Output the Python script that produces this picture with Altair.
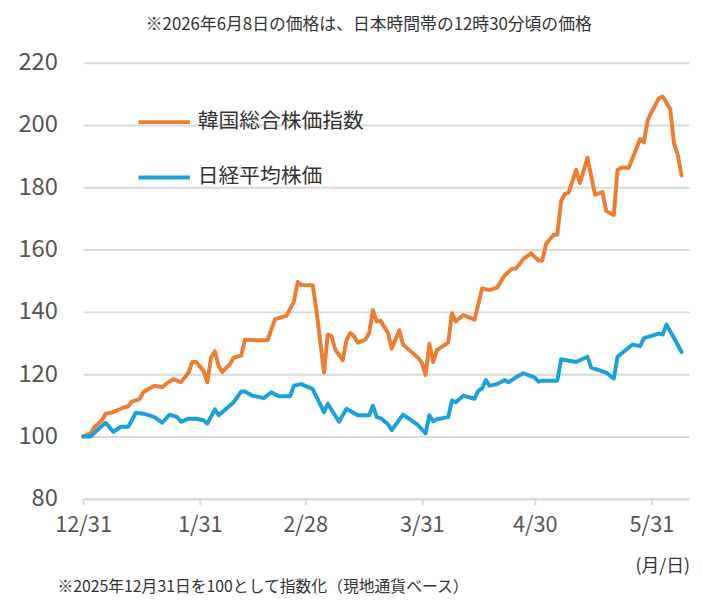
import altair as alt
import pandas as pd

FONT = "Noto Sans CJK JP"
BASE = pd.Timestamp("2025-12-31")

KR_NAME = "韓国総合株価指数"
JP_NAME = "日経平均株価"

# days since 2025-12-31
kr_day = [0, 2, 3, 5, 6, 8, 9, 10, 12, 13, 15, 16, 17, 19, 21, 22, 24, 26, 28, 29,
          30, 32, 33, 34, 35, 36, 37, 39, 40, 42, 43, 46, 49, 51, 54, 56, 57, 58, 61, 62,
          64, 65, 66, 67, 69, 70, 71, 72, 73, 75, 76, 77, 78, 79, 81, 82, 84, 85, 87, 89,
          90, 91, 92, 93, 94, 95, 97, 98, 99, 101, 104, 106, 108, 110, 112, 114, 115, 117, 119, 121,
          122, 123, 125, 126, 127, 128, 129, 130, 131, 132, 134, 136, 138, 139, 141, 142, 143, 145, 148, 149,
          150, 151, 153, 154, 156, 157, 158, 159]
kr_val = [100, 101, 103, 105.2, 107.3, 107.8, 108.4, 108.9, 109.7, 111.2, 112, 114.2, 115, 116.3, 115.8, 116.8, 118.4, 117.4, 120.5, 123.9,
          124, 121, 117.4, 125.3, 127.4, 122.6, 120.7, 123.2, 125.3, 126, 131.1, 130.9, 130.9, 137.7, 138.7, 143.3, 149.6, 148.6, 148.6, 140.6,
          120.5, 132.7, 132.2, 127.9, 124.5, 131.1, 133.2, 132.2, 130.1, 131.1, 133.2, 140.6, 136.9, 137.2, 133.2, 128.2, 134.1, 129.5, 127.4, 125.3,
          123.7, 119.7, 129.8, 123.9, 127.7, 128.5, 130.1, 139.6, 136.9, 139, 137.5, 147.5, 147, 147.8, 151.7, 153.9, 153.9, 157, 158.8, 156.5,
          156.5, 161.8, 164.8, 164.8, 175.6, 177.9, 178.3, 181.9, 185.6, 181.4, 189.5, 177.7, 178.5, 172.4, 171.1, 185.6, 186.3, 186.3, 195.5, 194.4,
          201.5, 204.1, 208.6, 209.2, 205.2, 194.1, 190.4, 183.8]

jp_day = [0, 2, 4, 6, 8, 10, 12, 14, 16, 19, 21, 23, 25, 26, 28, 30, 32, 33, 35, 36,
          38, 40, 42, 43, 45, 48, 50, 52, 55, 56, 58, 61, 64, 65, 68, 70, 73, 76, 77, 78,
          79, 81, 82, 85, 86, 89, 91, 92, 93, 94, 97, 98, 99, 101, 104, 105, 106, 107, 108, 110,
          112, 113, 115, 117, 119, 120, 121, 122, 126, 127, 131, 134, 135, 139, 141, 142, 146, 148, 149, 153,
          154, 155, 157, 159]
jp_val = [100, 100, 102.3, 104.4, 101.5, 103.1, 103.1, 107.6, 107.3, 106.2, 104.4, 107, 106.2, 104.7, 105.7, 105.7, 105.2, 104.1, 108.7, 106.8,
          108.9, 111, 114.4, 114.4, 113.1, 112.3, 114.2, 112.9, 112.9, 116.3, 116.8, 115.2, 107.8, 110.5, 104.7, 108.9, 106.8, 106.8, 109.9, 106.2,
          105.9, 103.9, 102, 107, 106.2, 103.6, 101, 106.8, 104.9, 105.5, 106.2, 111.5, 111, 113.1, 112.1, 114.7, 115.4, 118.1, 116.3, 116.8,
          118.1, 117.4, 119, 120.3, 119.4, 118.9, 117.6, 117.9, 117.9, 124.8, 123.9, 125.6, 122.1, 120.5, 118.6, 125.6, 129.5, 129, 131.6, 133,
          132.7, 135.9, 131.6, 127.1]

x_ticks = ["2025-12-31", "2026-01-31", "2026-02-28", "2026-03-31", "2026-04-30", "2026-05-31"]
y_ticks = [80, 100, 120, 140, 160, 180, 200, 220]

rows = []
for d, v in zip(kr_day, kr_val):
    rows.append({"date": BASE + pd.Timedelta(days=d), "value": v, "series": KR_NAME})
for d, v in zip(jp_day, jp_val):
    rows.append({"date": BASE + pd.Timedelta(days=d), "value": v, "series": JP_NAME})
df = pd.DataFrame(rows)


def dt(s):
    t = pd.Timestamp(s)
    return alt.DateTime(year=t.year, month=t.month, date=t.day)


GRID = "#d9d9d9"
TXT = "#555555"

lines = alt.Chart(df).mark_line(strokeWidth=4, strokeJoin="round", strokeCap="round").encode(
    x=alt.X(
        "date:T",
        scale=alt.Scale(domain=[dt("2025-12-31"), dt("2026-06-10")], nice=False),
        axis=alt.Axis(
            values=[dt(s) for s in x_ticks],
            format="%-m/%-d",
            title=None,
            grid=False,
            domainColor=GRID,
            domainWidth=2,
            tickColor=GRID,
            tickWidth=2,
            tickSize=6,
            labelFont=FONT,
            labelFontSize=22,
            labelColor=TXT,
            labelPadding=10,
            labelOverlap=False,
            labelBound=False,
            labelFlush=False,
        ),
    ),
    y=alt.Y(
        "value:Q",
        scale=alt.Scale(domain=[80, 220], nice=False, zero=False),
        axis=alt.Axis(
            values=y_ticks,
            title=None,
            domain=False,
            ticks=False,
            gridColor=GRID,
            gridWidth=2,
            labelFont=FONT,
            labelFontSize=24,
            labelColor=TXT,
            labelPadding=26,
        ),
    ),
    color=alt.Color(
        "series:N",
        scale=alt.Scale(domain=[KR_NAME, JP_NAME], range=["#ED7D31", "#1BA1DA"]),
        legend=alt.Legend(
            title=None,
            orient="none",
            legendX=54,
            legendY=32,
            symbolType="stroke",
            symbolSize=2704,
            symbolStrokeWidth=4,
            labelFont=FONT,
            labelFontSize=21,
            labelColor="#333333",
            labelOffset=6,
            labelLimit=400,
            rowPadding=18,
        ),
    ),
)

top_note = alt.Chart(pd.DataFrame({"t": ["※2026年6月8日の価格は、日本時間帯の12時30分頃の価格"]})).mark_text(
    font=FONT, fontSize=17, color="#333333", align="center", baseline="middle"
).encode(text="t:N", x=alt.value(289), y=alt.value(-38))

unit_note = alt.Chart(pd.DataFrame({"t": ["(月/日)"]})).mark_text(
    font=FONT, fontSize=18, color="#333333", align="right", baseline="middle"
).encode(text="t:N", x=alt.value(614), y=alt.value(510))

foot_note = alt.Chart(pd.DataFrame({"t": ["※2025年12月31日を100として指数化（現地通貨ベース）"]})).mark_text(
    font=FONT, fontSize=16, color="#333333", align="left", baseline="middle"
).encode(text="t:N", x=alt.value(-26), y=alt.value(530))

chart = alt.layer(lines, top_note, unit_note, foot_note).properties(
    width=613,
    height=441,
    autosize=alt.AutoSizeParams(type="none"),
    padding={"left": 76, "top": 52, "right": 5, "bottom": 96},
).configure_view(stroke=None)

chart.save("out.html", embed_options={"renderer": "svg", "actions": False})
